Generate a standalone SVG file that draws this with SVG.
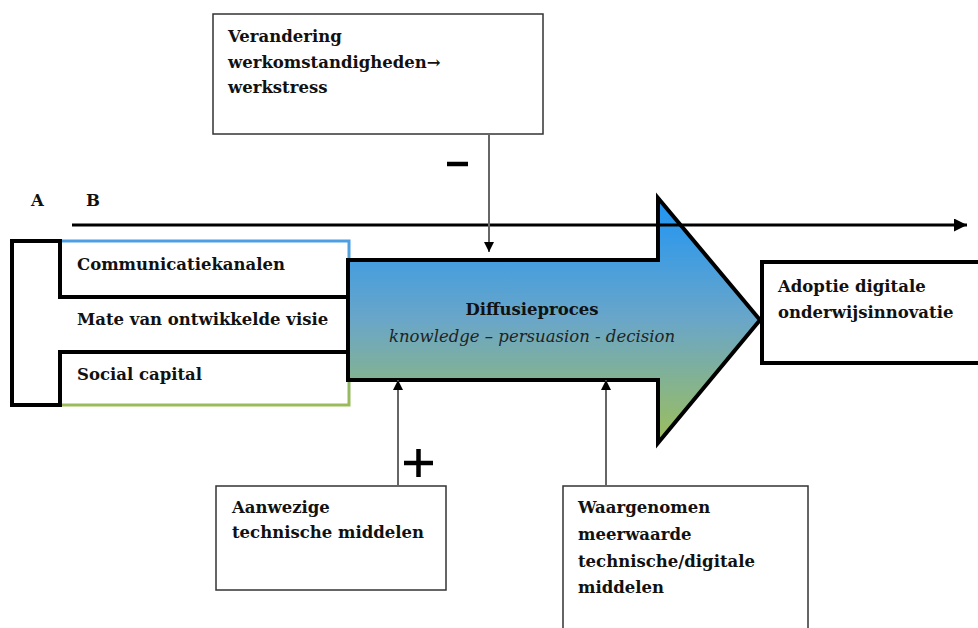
<svg xmlns="http://www.w3.org/2000/svg" width="978" height="628" viewBox="0 0 978 628">
<defs>
<linearGradient id="arrowGrad" x1="0" y1="198" x2="0" y2="443" gradientUnits="userSpaceOnUse">
<stop offset="0" stop-color="#1e95f5"/>
<stop offset="0.5" stop-color="#6aa6c8"/>
<stop offset="1" stop-color="#9dbf5a"/>
</linearGradient>
<linearGradient id="frameGrad" x1="0" y1="241" x2="0" y2="405" gradientUnits="userSpaceOnUse">
<stop offset="0" stop-color="#4d9fe3"/>
<stop offset="1" stop-color="#9bbb59"/>
</linearGradient>
<marker id="tri" viewBox="0 0 10 10" refX="10" refY="5" markerWidth="10" markerHeight="10" markerUnits="userSpaceOnUse" orient="auto">
<path d="M0,0 L10,5 L0,10 Z" fill="#000"/>
</marker>
<marker id="triBig" viewBox="0 0 12 12" refX="12" refY="6" markerWidth="13" markerHeight="13" markerUnits="userSpaceOnUse" orient="auto">
<path d="M0,0 L12,6 L0,12 Z" fill="#000"/>
</marker>
</defs>
<style>
.t{font-family:"DejaVu Serif","Liberation Serif",serif;font-weight:bold;font-size:16.5px;fill:#111}
.it{font-family:"DejaVu Serif","Liberation Serif",serif;font-style:italic;font-size:16.5px;fill:#222}
.box{fill:#fff;stroke:#333;stroke-width:1.5}
.thick{fill:none;stroke:#000;stroke-width:4}
.conn{stroke:#666;stroke-width:2;fill:none}
</style>
<rect width="978" height="628" fill="#fff"/>

<g id="factors">
<path d="M60,241 H349 V405 H60" fill="#fff" stroke="url(#frameGrad)" stroke-width="3"/>
</g>

<g id="diffusie">
<path d="M348,260 H658 V198 L760,320 L658,443 V380 H348 Z" fill="url(#arrowGrad)" stroke="#000" stroke-width="4" stroke-linejoin="miter"/>
<text class="t" x="532" y="315" text-anchor="middle" font-size="17.5">Diffusieproces</text>
<text class="it" x="532" y="342" text-anchor="middle">knowledge – persuasion - decision</text>
</g>

<g id="bracket">
<path class="thick" d="M348,297 H60 V241 H12 V405 H60 V352 H348"/>
<text class="t" x="77" y="270">Communicatiekanalen</text>
<text class="t" x="77" y="325">Mate van ontwikkelde visie</text>
<text class="t" x="77" y="380">Social capital</text>
</g>

<g id="labels">
<text class="t" x="31" y="206" font-size="17">A</text>
<text class="t" x="86" y="206" font-size="17">B</text>
</g>

<g id="adoptie">
<rect x="762" y="262" width="230" height="101" fill="#fff" stroke="#000" stroke-width="4"/>
<text class="t" x="778" y="292">Adoptie digitale</text>
<text class="t" x="778" y="318">onderwijsinnovatie</text>
</g>

<g id="werkstress">
<rect class="box" x="213" y="14" width="330" height="120"/>
<text class="t" x="228" y="42">Verandering</text>
<text class="t" x="228" y="68">werkomstandigheden→</text>
<text class="t" x="228" y="93">werkstress</text>
</g>

<g id="middelen">
<rect class="box" x="216" y="486" width="230" height="104"/>
<text class="t" x="232" y="513">Aanwezige</text>
<text class="t" x="232" y="538">technische middelen</text>
</g>

<g id="meerwaarde">
<rect class="box" x="563" y="486" width="245" height="150"/>
<text class="t" x="578" y="513">Waargenomen</text>
<text class="t" x="578" y="540">meerwaarde</text>
<text class="t" x="578" y="567">technische/digitale</text>
<text class="t" x="578" y="593">middelen</text>
</g>

<g id="connectors">
<line x1="72" y1="225" x2="967" y2="225" stroke="#000" stroke-width="3" marker-end="url(#triBig)"/>
<line class="conn" x1="489" y1="134" x2="489" y2="252" marker-end="url(#tri)"/>
<line class="conn" x1="398" y1="486" x2="398" y2="380" marker-end="url(#tri)"/>
<line class="conn" x1="606" y1="486" x2="606" y2="380" marker-end="url(#tri)"/>
<line x1="447" y1="164" x2="468" y2="164" stroke="#000" stroke-width="4.5"/>
<path d="M404,463 H433 M418.5,449 V477" stroke="#000" stroke-width="4.5"/>
</g>
</svg>
